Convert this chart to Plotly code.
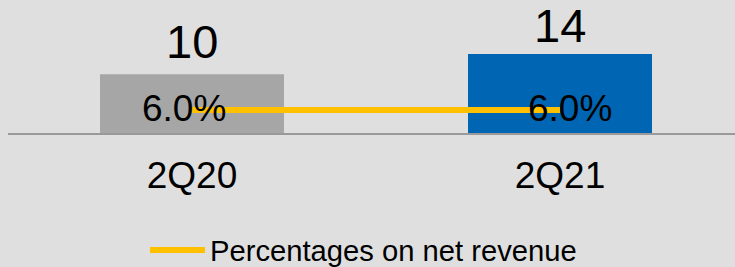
import plotly.graph_objects as go

categories = ["2Q20", "2Q21"]
values = [10.4, 14.0]
value_labels = ["10", "14"]
percentages = [6.0, 6.0]
pct_labels = ["6.0%", "6.0%"]
bar_colors = ["#a6a6a6", "#0066b3"]
line_name = "Percentages on net revenue"

FONT = "Liberation Sans, Arial, sans-serif"

fig = go.Figure()
fig.add_trace(go.Bar(
    x=categories, y=values, width=0.5,
    marker=dict(color=bar_colors, line=dict(width=0)),
    showlegend=False, hoverinfo="skip",
))
fig.add_trace(go.Scatter(
    x=categories, y=percentages, yaxis="y2", mode="lines",
    line=dict(color="#ffc000", width=6),
    name=line_name, showlegend=True, cliponaxis=False,
))

value_shifts = [5, 1]
for c, v, lab, s in zip(categories, values, value_labels, value_shifts):
    fig.add_annotation(x=c, y=v, yref="y", text=lab, showarrow=False,
                       yanchor="bottom", yshift=s, borderpad=0,
                       font=dict(size=47, color="#000000", family=FONT))

shifts = [-8, 10]
for c, p, lab, s in zip(categories, percentages, pct_labels, shifts):
    fig.add_annotation(x=c, y=p, yref="y2", text=lab, showarrow=False,
                       xshift=s, yshift=2,
                       font=dict(size=37, color="#000000", family=FONT))

fig.update_layout(
    width=735, height=267,
    margin=dict(l=8, r=0, t=0, b=134),
    paper_bgcolor="#dfdfdf", plot_bgcolor="#dfdfdf",
    font=dict(family=FONT, color="#000000"),
    xaxis=dict(range=[-0.5, 1.4755], showgrid=False, zeroline=False,
               showline=True, linecolor="#999999", linewidth=2,
               ticks="", ticklabelstandoff=9,
               tickfont=dict(size=37, family=FONT)),
    yaxis=dict(range=[0, 23.57], visible=False, showgrid=False, zeroline=False),
    yaxis2=dict(range=[0, 34.7], overlaying="y", visible=False,
                showgrid=False, zeroline=False),
    legend=dict(orientation="h", x=0.4945, xanchor="center", xref="container",
                y=0.064, yanchor="middle", yref="container",
                font=dict(size=29.2, family=FONT), itemwidth=55,
                bgcolor="rgba(0,0,0,0)"),
)

fig.write_html(
    "out.html",
    config={"displayModeBar": False},
    post_script="document.body.style.margin='0';document.body.style.overflow='hidden';",
)
